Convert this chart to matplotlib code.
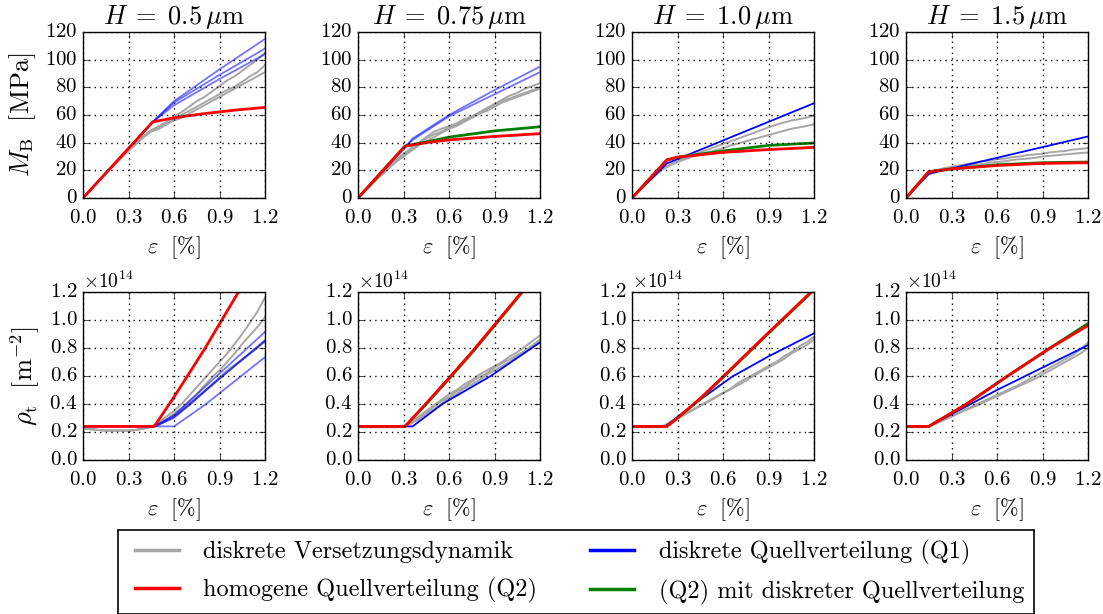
import numpy as np
import matplotlib
matplotlib.use("Agg")
import matplotlib.pyplot as plt
from matplotlib.lines import Line2D

plt.style.use("classic")
plt.rcParams["font.family"] = "serif"
plt.rcParams["font.serif"] = ["cmr10"]
plt.rcParams["mathtext.fontset"] = "cm"
plt.rcParams["axes.unicode_minus"] = False
plt.rcParams["axes.formatter.use_mathtext"] = True

H_labels = ["0.5", "0.75", "1.0", "1.5"]

# discrete dislocation dynamics samples (every 0.05 %)
eps_dd = np.linspace(0.0, 1.2, 25)

# --- M_B [MPa] ---
M_gray = [
    [[0, 6, 12, 18, 24, 29.5, 35, 40, 45, 49, 52, 55, 59, 62, 66, 70, 73, 77, 81, 85, 88, 92, 96, 100, 105],
     [0, 6, 12, 18, 23.5, 29, 34.5, 39.5, 44.5, 48.5, 51, 54, 57, 60, 63, 66, 69, 72, 75, 78, 80.5, 84, 88, 91, 96],
     [0, 6, 12, 17.5, 23, 28.5, 34, 39, 44, 48, 50, 53, 56, 58, 61, 64, 67, 70, 73, 76, 79, 82, 85, 88, 91]],
    [[0, 5.5, 11, 16.5, 22, 27, 32, 36, 40, 44, 48, 50, 52, 54, 57, 59, 62, 65, 68, 71, 74, 76, 79, 81, 83],
     [0, 5.5, 11, 16.5, 21.5, 26.5, 31, 35, 39, 43, 46, 48, 51, 53, 56, 58, 61, 64, 67, 70, 72, 74, 76, 78, 80],
     [0, 5.5, 11, 16, 21, 26, 30, 34, 38, 41, 44, 47, 50, 52, 55, 58, 61, 63, 66, 69, 71, 73, 75, 77, 79]],
    [[0, 5.5, 11, 16, 21, 24, 27, 29, 31, 33, 35, 37, 39, 41, 43, 45, 47, 49, 51, 53, 54.5, 56, 57, 58, 59.5],
     [0, 5.5, 11, 16, 20.5, 23.5, 26, 28, 30, 31.5, 33, 34.5, 36, 38, 39.5, 41, 42.5, 44, 45.5, 47, 48.5, 50, 51, 52, 53.5]],
    [[0, 6, 12, 17.5, 20, 21.5, 22.5, 23.5, 24.5, 25.5, 26.5, 27, 28, 28.5, 29.5, 30, 31, 31.5, 32, 33, 33.5, 34, 35, 35.5, 36],
     [0, 6, 12, 17, 19, 20.5, 21.5, 22.5, 23, 24, 24.5, 25.5, 26, 26.5, 27.5, 28, 28.5, 29, 30, 30.5, 31, 31.5, 32, 32.5, 33]],
]
M_red = [
    ([0, 0.46, 0.6, 0.8, 1.0, 1.2], [0, 55, 58, 61, 63.5, 65.5]),
    ([0, 0.31, 0.45, 0.6, 0.9, 1.2], [0, 37.5, 40, 42, 44.5, 46.5]),
    ([0, 0.23, 0.3, 0.6, 0.9, 1.2], [0, 27.5, 29.5, 33, 35, 36.6]),
    ([0, 0.15, 0.3, 0.6, 0.9, 1.2], [0, 19, 21, 23.5, 25, 25.5]),
]
M_green = [
    None,
    ([0, 0.31, 0.45, 0.6, 0.9, 1.2], [0, 37.5, 40.5, 44, 48.5, 51.5]),
    ([0, 0.23, 0.3, 0.6, 0.9, 1.2], [0, 27.5, 29.5, 34, 38, 39.8]),
    ([0, 0.15, 0.3, 0.6, 0.9, 1.2], [0, 19, 21, 24, 25.5, 26]),
]
M_blue = [
    [([0, 0.46, 0.6, 0.9, 1.2], [0, 55, 70, 93, 115]),
     ([0, 0.46, 0.6, 0.9, 1.2], [0, 55, 69, 89, 108]),
     ([0, 0.46, 0.6, 0.9, 1.2], [0, 55, 67, 86, 104])],
    [([0, 0.36, 0.6, 0.9, 1.2], [0, 43, 60, 78, 95]),
     ([0, 0.36, 0.6, 0.9, 1.2], [0, 42, 59, 75, 91])],
    [([0, 0.23, 1.2], [0, 25, 68.5])],
    [([0, 0.15, 1.2], [0, 17.5, 44.5])],
]

# --- rho_t [1e14 m^-2] ---
rho_gray = [
    [[0.225, 0.22, 0.215, 0.21, 0.21, 0.21, 0.21, 0.215, 0.225, 0.24, 0.27, 0.31, 0.35, 0.40, 0.46, 0.52, 0.58, 0.64, 0.70, 0.76, 0.83, 0.90, 0.98, 1.06, 1.16],
     [0.225, 0.22, 0.215, 0.21, 0.21, 0.21, 0.21, 0.215, 0.225, 0.24, 0.26, 0.29, 0.33, 0.37, 0.42, 0.47, 0.53, 0.59, 0.64, 0.70, 0.76, 0.83, 0.89, 0.95, 1.02],
     [0.225, 0.22, 0.215, 0.21, 0.21, 0.21, 0.21, 0.215, 0.225, 0.235, 0.25, 0.28, 0.31, 0.35, 0.39, 0.44, 0.49, 0.54, 0.59, 0.64, 0.68, 0.72, 0.76, 0.80, 0.85]],
    [[0.235, 0.235, 0.235, 0.235, 0.235, 0.235, 0.245, 0.27, 0.31, 0.35, 0.39, 0.43, 0.47, 0.50, 0.54, 0.57, 0.61, 0.64, 0.67, 0.70, 0.74, 0.77, 0.81, 0.85, 0.89],
     [0.235, 0.235, 0.235, 0.235, 0.235, 0.235, 0.245, 0.265, 0.30, 0.34, 0.38, 0.42, 0.45, 0.49, 0.52, 0.56, 0.59, 0.62, 0.66, 0.69, 0.72, 0.75, 0.78, 0.82, 0.86],
     [0.235, 0.235, 0.235, 0.235, 0.235, 0.235, 0.24, 0.26, 0.29, 0.33, 0.36, 0.40, 0.44, 0.47, 0.51, 0.54, 0.57, 0.61, 0.64, 0.67, 0.70, 0.74, 0.77, 0.81, 0.85]],
    [[0.235, 0.235, 0.235, 0.235, 0.24, 0.27, 0.30, 0.33, 0.36, 0.39, 0.42, 0.45, 0.48, 0.51, 0.55, 0.58, 0.61, 0.64, 0.67, 0.70, 0.74, 0.77, 0.81, 0.84, 0.88],
     [0.235, 0.235, 0.235, 0.235, 0.24, 0.265, 0.295, 0.325, 0.355, 0.385, 0.415, 0.445, 0.475, 0.505, 0.535, 0.565, 0.60, 0.63, 0.66, 0.69, 0.72, 0.76, 0.79, 0.82, 0.86]],
    [[0.235, 0.235, 0.235, 0.24, 0.265, 0.29, 0.315, 0.34, 0.365, 0.39, 0.415, 0.44, 0.465, 0.49, 0.515, 0.54, 0.57, 0.60, 0.63, 0.66, 0.69, 0.72, 0.75, 0.79, 0.84],
     [0.235, 0.235, 0.235, 0.24, 0.26, 0.285, 0.31, 0.335, 0.36, 0.38, 0.405, 0.43, 0.455, 0.48, 0.505, 0.53, 0.555, 0.58, 0.61, 0.64, 0.67, 0.70, 0.73, 0.76, 0.80]],
]
rho_red = [
    ([0, 0.47, 0.6, 0.8, 1.025, 1.1], [0.24, 0.24, 0.45, 0.79, 1.2, 1.34]),
    ([0, 0.31, 0.45, 0.6, 0.75, 0.9, 1.08, 1.15], [0.24, 0.24, 0.405, 0.585, 0.77, 0.965, 1.2, 1.3]),
    ([0, 0.23, 0.3, 0.45, 0.6, 0.9, 1.2], [0.24, 0.24, 0.30, 0.44, 0.595, 0.91, 1.22]),
    ([0, 0.15, 0.4, 0.67, 0.95, 1.2], [0.24, 0.24, 0.4, 0.6, 0.8, 0.96]),
]
rho_green = [
    None,
    ([0, 0.31, 0.45, 0.6, 0.75, 0.9, 1.08, 1.15], [0.24, 0.24, 0.40, 0.58, 0.765, 0.96, 1.195, 1.29]),
    ([0, 0.23, 0.3, 0.45, 0.6, 0.9, 1.2], [0.24, 0.24, 0.30, 0.435, 0.59, 0.905, 1.215]),
    ([0, 0.15, 0.4, 0.67, 0.95, 1.2], [0.24, 0.24, 0.4, 0.6, 0.8, 0.975]),
]
rho_blue = [
    [([0, 0.47, 0.6, 1.2], [0.24, 0.24, 0.32, 0.915]),
     ([0, 0.47, 0.6, 1.2], [0.24, 0.24, 0.31, 0.855]),
     ([0, 0.47, 0.6, 0.9, 1.2], [0.24, 0.24, 0.30, 0.58, 0.85]),
     ([0, 0.6, 0.805, 1.2], [0.24, 0.24, 0.395, 0.735])],
    [([0, 0.36, 0.556, 0.875, 1.2], [0.24, 0.24, 0.4, 0.6, 0.84])],
    [([0, 0.22, 0.41, 0.66, 0.9, 1.2], [0.24, 0.24, 0.4, 0.595, 0.74, 0.905])],
    [([0, 0.15, 0.6, 1.2], [0.24, 0.24, 0.5, 0.82])],
]

GRAY = "#a6a6a6"
fig = plt.figure(figsize=(11.03, 6.14), dpi=100, facecolor="white")

lefts = [83, 358, 632, 906]
W, H = 1103.0, 614.0


def draw(ax, gray, red, green, blue, scale=1.0):
    for g in gray:
        ax.plot(eps_dd, np.array(g) * scale, color=GRAY, lw=1.4)
    alpha = 0.55 if len(blue) > 1 else 1.0
    for bx, by in blue:
        ax.plot(bx, np.array(by) * scale, color="blue", lw=1.3, alpha=alpha)
    if green is not None:
        ax.plot(green[0], np.array(green[1]) * scale, color="green", lw=2)
    ax.plot(red[0], np.array(red[1]) * scale, color="red", lw=2)


for i in range(4):
    ax1 = fig.add_axes([lefts[i] / W, 1 - 198 / H, 182 / W, 166 / H])
    draw(ax1, M_gray[i], M_red[i], M_green[i], M_blue[i])
    ax1.set_xlim(0, 1.2)
    ax1.set_ylim(0, 120)
    ax1.set_xticks([0, 0.3, 0.6, 0.9, 1.2])
    ax1.set_yticks(range(0, 121, 20))
    ax1.grid(True, color="k", ls=":", lw=1)
    ax1.tick_params(labelsize=15)
    ax1.tick_params(axis="x", pad=8)
    ax1.set_title(r"$H\;=\;%s\,\mu\mathrm{m}$" % H_labels[i], fontsize=19, pad=6)
    ax1.set_xlabel(r"$\varepsilon\ \ [\%]$", fontsize=16)
    if i == 0:
        ax1.set_ylabel(r"$M_\mathrm{B}\ \ [\mathrm{MPa}]$", fontsize=19)

    ax2 = fig.add_axes([lefts[i] / W, 1 - 460 / H, 182 / W, 168 / H])
    draw(ax2, rho_gray[i], rho_red[i], rho_green[i], rho_blue[i], scale=1e14)
    ax2.set_xlim(0, 1.2)
    ax2.set_ylim(0, 1.2e14)
    ax2.set_xticks([0, 0.3, 0.6, 0.9, 1.2])
    ax2.set_yticks(np.arange(0, 1.21e14, 0.2e14))
    ax2.grid(True, color="k", ls=":", lw=1)
    ax2.tick_params(labelsize=15)
    ax2.tick_params(axis="x", pad=8)
    ax2.yaxis.get_offset_text().set_fontsize(14)
    ax2.set_xlabel(r"$\varepsilon\ \ [\%]$", fontsize=16)
    if i == 0:
        ax2.set_ylabel(r"$\rho_\mathrm{t}\ \ [\mathrm{m}^{-2}]$", fontsize=19)

handles = [
    Line2D([], [], color=GRAY, lw=2.5),
    Line2D([], [], color="red", lw=2.5),
    Line2D([], [], color="blue", lw=2.5),
    Line2D([], [], color="green", lw=2.5),
]
labels = [
    "diskrete Versetzungsdynamik",
    "homogene Quellverteilung (Q2)",
    "diskrete Quellverteilung (Q1)",
    "(Q2) mit diskreter Quellverteilung",
]
leg = fig.legend(handles, labels, loc="upper center", bbox_to_anchor=(0.522, 1 - 530 / H),
                 ncol=2, fontsize=17.5, frameon=True, handlelength=2.4, handletextpad=0.7,
                 columnspacing=1.9, labelspacing=0.6, borderpad=0.4, borderaxespad=0)
leg.get_frame().set_edgecolor("black")
leg.get_frame().set_linewidth(1.2)

fig.savefig("out.png", dpi=100, facecolor="white")
